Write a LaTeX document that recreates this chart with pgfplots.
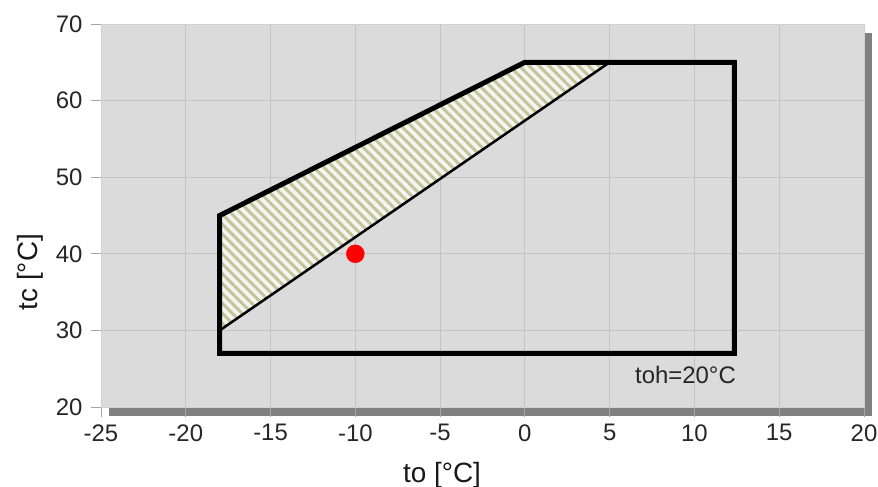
\documentclass[border=0pt]{standalone}
\usepackage{fontspec}
\setmainfont{Liberation Sans}
\usepackage{pgfplots}
\pgfplotsset{compat=1.18}
\usetikzlibrary{patterns.meta,shadows}
\definecolor{bg}{HTML}{DBDBDB}
\definecolor{gridc}{HTML}{C4C4C4}
\definecolor{shadowc}{HTML}{808080}
\definecolor{hatch}{RGB}{196,196,150}
\definecolor{hatchbg}{HTML}{F4F4F4}
\begin{document}
\begin{tikzpicture}
\begin{axis}[
  scale only axis, width=763bp, height=383bp,
  xmin=-25, xmax=20, ymin=20, ymax=70,
  xtick={-25,-20,...,20}, ytick={20,30,...,70},
  grid=major, major grid style={gridc, line width=0.8bp},
  axis background/.style={fill=bg, drop shadow={shadow xshift=8bp, shadow yshift=-9bp, fill=shadowc, opacity=1}},
  axis line style={draw=black!18, line width=0.8bp},
  tick align=outside, major tick length=10bp, tick style={black!35, line width=0.8bp},
  xtick pos=left, ytick pos=left,
  ticklabel style={font=\fontsize{24}{28}\selectfont, text=black!85},
  yticklabel style={xshift=-5bp},
  xticklabel style={yshift=-4bp},
  /pgf/number format/assume math mode=true,
  xlabel={to [°C]}, ylabel={tc [°C]},
  label style={font=\fontsize{28}{32}\selectfont, text=black!90},
  xlabel style={at={(axis description cs:0.447,-0.178)}, anchor=center},
  ylabel style={at={(axis description cs:-0.093,0.352)}, anchor=center},
  clip=false,
]
\addplot[draw=none, fill=hatchbg] coordinates {(-18,30) (-18,45) (0,65) (5,65)} -- cycle;
\addplot[draw=none, pattern={Lines[angle=-45, distance=7bp, line width=3bp]}, pattern color=hatch] coordinates {(-18,30) (-18,45) (0,65) (5,65)} -- cycle;
\addplot[black, line width=2.5bp] coordinates {(-18,30) (5,65)};
\addplot[black, line width=5bp, line join=miter] coordinates {(-18,27) (-18,45) (0,65) (12.35,65) (12.35,27)} -- cycle;
\addplot[only marks, mark=*, mark size=9bp, red, mark options={draw=red, fill=red}] coordinates {(-10,40)};
\node[anchor=base east, font=\fontsize{24}{28}\selectfont, inner sep=0pt, text=black!85] at (axis cs:12.45,23.1) {toh=20°C};
\end{axis}
\pgfresetboundingbox
\path ([shift={(-101bp,-80bp)}]current axis.south west) rectangle ([shift={(777bp,407bp)}]current axis.south west);
\end{tikzpicture}
\end{document}
